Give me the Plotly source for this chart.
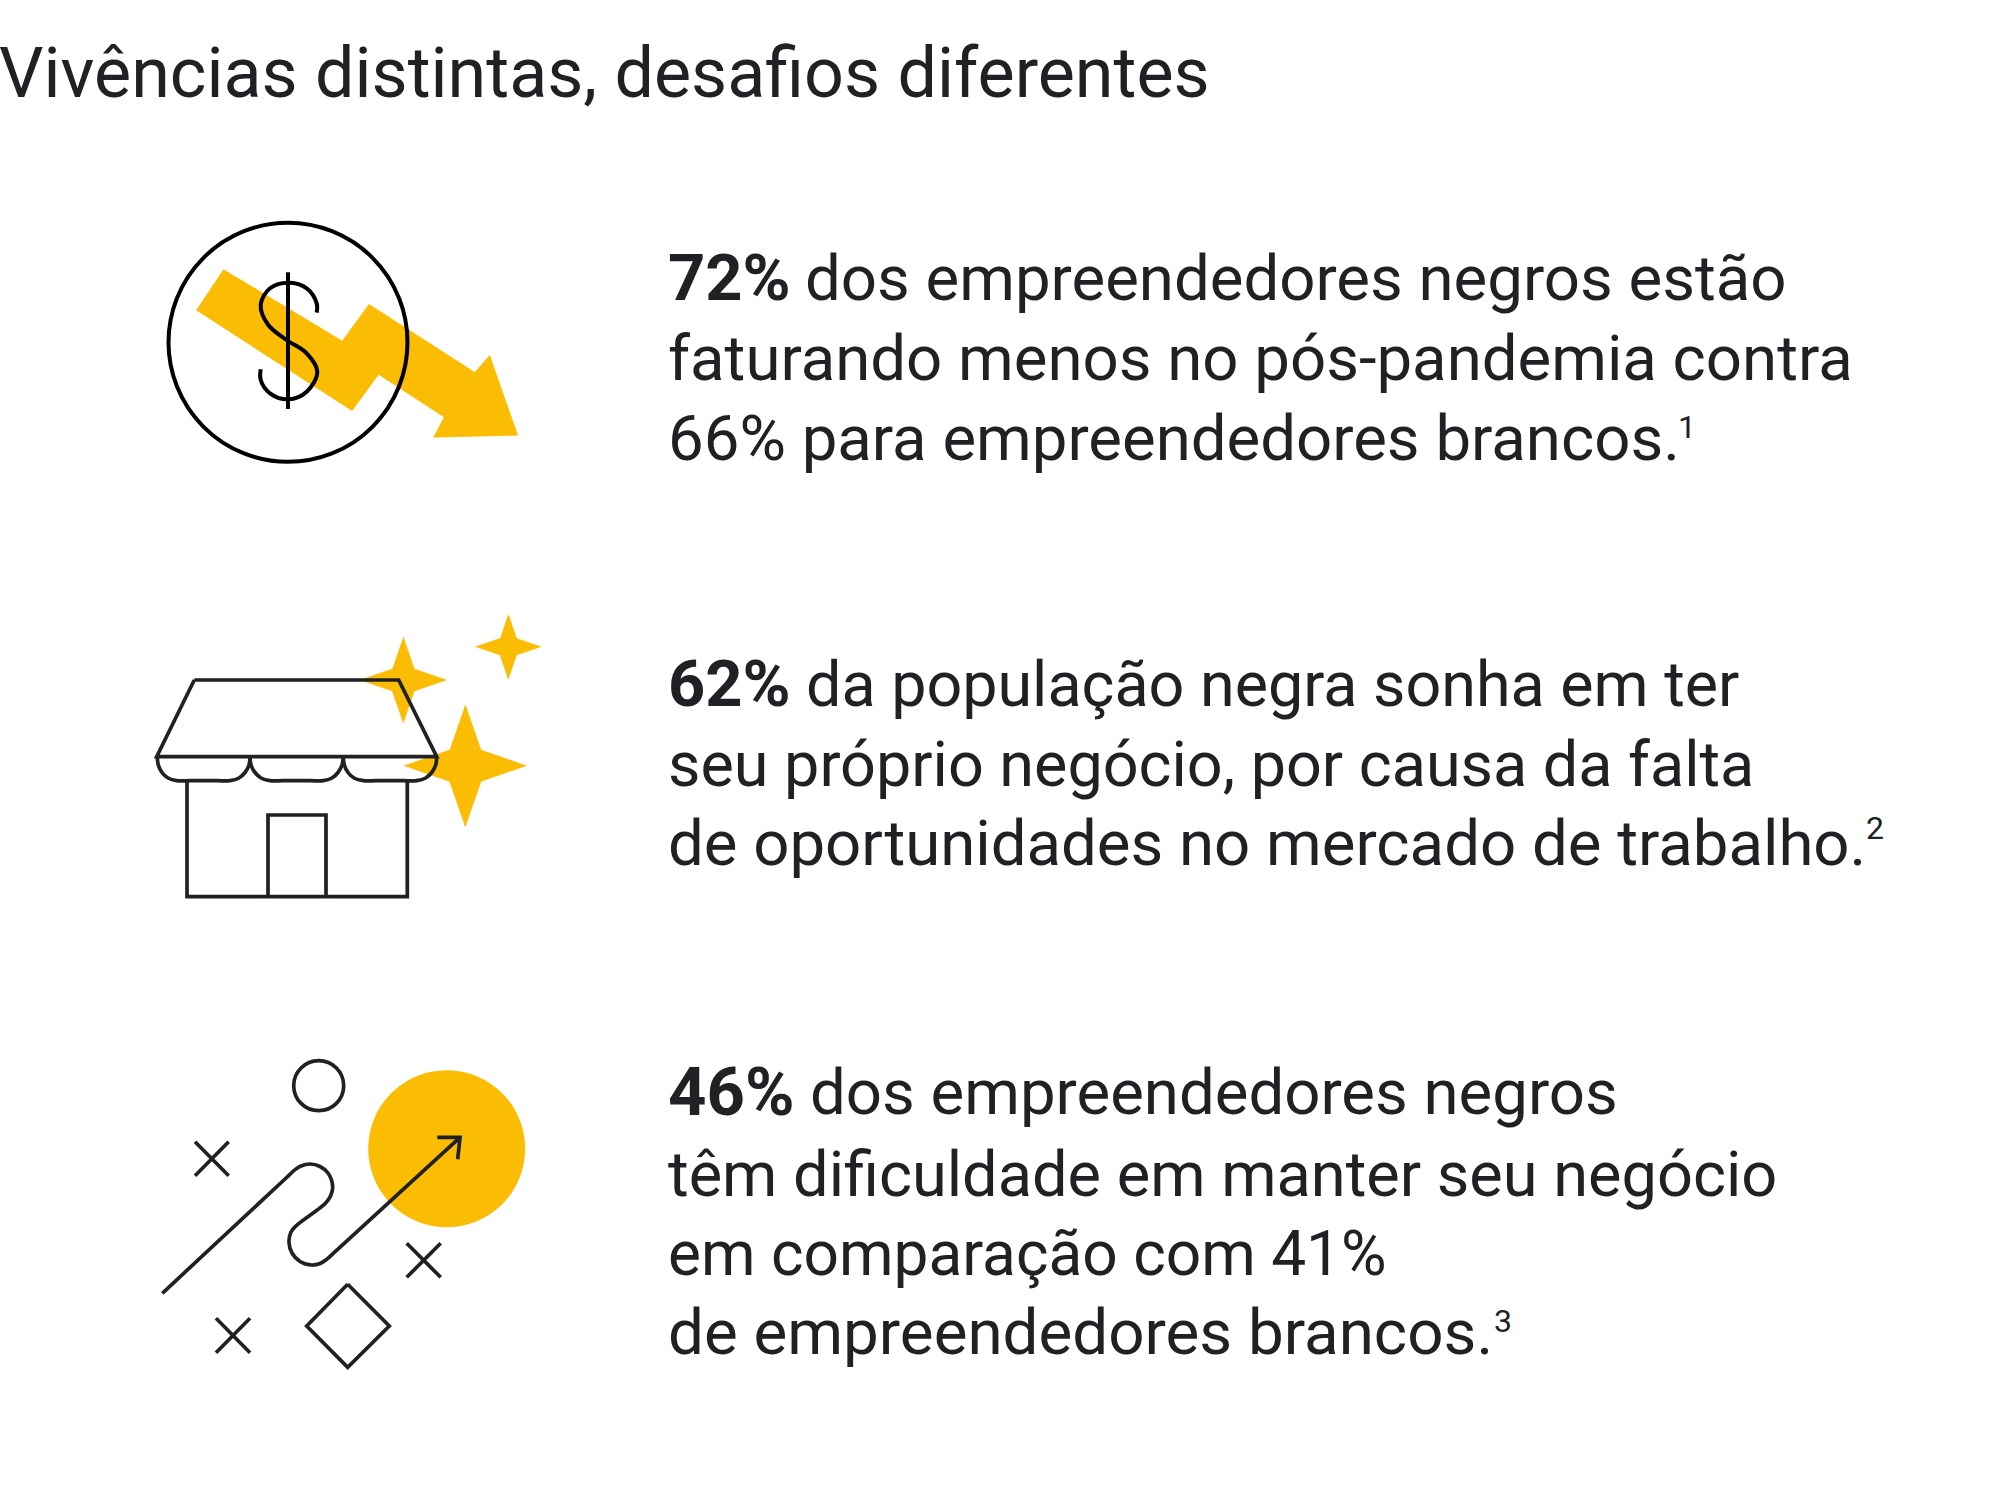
"""Infographic: Vivências distintas, desafios diferentes."""
import plotly.graph_objects as go

INK = '#202124'
YELLOW = '#FBBC04'
FONT = 'Roboto'
NOTE_SIZE = 32

title_text = 'Vivências distintas, desafios diferentes'

# percentages quoted in the three statements
black_revenue_down = 72
white_revenue_down = 66
dream_business = 62
black_difficulty = 46
white_difficulty = 41

bold_stats = [f'{black_revenue_down}%', f'{dream_business}%', f'{black_difficulty}%']
bold_sizes = [65, 65, 67]
first_line_rest = ['dos empreendedores negros estão', 'da população negra sonha em ter', 'dos empreendedores negros']
first_line_rest_x = [803, 804, 808]
first_line_y = [303.5, 709, 1118]
first_line_sizes = [63.5, 62.8, 63.5]

body_lines = [
    'faturando menos no pós-pandemia contra',
    f'{white_revenue_down}% para empreendedores brancos.',
    'seu próprio negócio, por causa da falta',
    'de oportunidades no mercado de trabalho.',
    'têm dificuldade em manter seu negócio',
    f'em comparação com {white_difficulty}%',
    'de empreendedores brancos.',
]
body_lines_y = [383.5, 464, 789, 868.5, 1199, 1278, 1358]
body_sizes = [63.5, 63.5, 62.9, 63.5, 63.1, 62.2, 63.7]

note_marks = ['1', '2', '3']
note_x = [1676, 1864, 1492]
note_y = [441, 841.5, 1335]

# falling arrow icon
arrow_x = [222.7, 342.7, 369.3, 475, 489.3, 516, 435.7, 446, 378.3, 351.7, 197]
arrow_y = [270.5, 342.7, 306, 374, 358, 434, 436, 416.7, 372.7, 409, 309]
coin_x = [288]
coin_y = [342.3]
dollar_s_x = [316.7, 316.7, 306.7, 288.3, 270, 260.7, 268.3, 286.7, 306.7, 317.3, 306.7, 288.3, 270, 260.7, 260.7]
dollar_s_y = [312.7, 303.3, 288.3, 282.7, 288.3, 305, 325, 340, 353.3, 371.7, 391.7, 399.3, 393.3, 380, 369.3]
dollar_bar_x = [288, 288]
dollar_bar_y = [272.3, 409]

# shop icon
star1_x = [403.3, 414.3, 446.3, 414.3, 403.3, 392.3, 360.3, 392.3]
star1_y = [637, 669, 680, 691, 723, 691, 680, 669]
star2_x = [508.3, 516.6, 541, 516.6, 508.3, 500, 475.6, 500]
star2_y = [614.2, 638.4, 646.7, 655, 679.2, 655, 646.7, 638.4]
star3_x = [465.3, 481, 526.3, 481, 465.3, 449.6, 404.3, 449.6]
star3_y = [704.7, 750, 765.7, 781.4, 826.7, 781.4, 765.7, 750]
awning_x = [194.3, 398.7, 436.7, 156.7, 194.3]
awning_y = [680, 680, 756.7, 756.7, 680]
scallop_x = [157.3, 158.3, 162, 168, 176.7, 190, 217, 230, 239, 245, 249, 250, None,
             250, 251, 255, 261, 270, 283, 310, 323.3, 332, 338, 342, 343.3, None,
             343.3, 344.3, 348, 354, 363.3, 376.6, 403.6, 416.7, 425.7, 431.7, 435.7, 436.7]
scallop_y = [756.7, 765, 772.5, 778, 780.7, 780.7, 780.7, 780.7, 778, 772.5, 765, 756.7, None,
             756.7, 765, 772.5, 778, 780.7, 780.7, 780.7, 780.7, 778, 772.5, 765, 756.7, None,
             756.7, 765, 772.5, 778, 780.7, 780.7, 780.7, 780.7, 778, 772.5, 765, 756.7]
wall_x = [187, 187, 407.3, 407.3]
wall_y = [780.7, 896.7, 896.7, 780.7]
door_x = [268, 268, 326, 326]
door_y = [896.7, 815, 815, 896.7]

# path icon
sun_x = [446.7]
sun_y = [1148.7]
ring_x = [318.7]
ring_y = [1085.7]
crosses_x = [195, 228.7, None, 228.7, 195, None, 406.7, 440.7, None, 440.7, 406.7, None, 216, 250, None, 250, 216]
crosses_y = [1141.7, 1175.7, None, 1141.7, 1175.7, None, 1243.3, 1277.3, None, 1243.3, 1277.3, None, 1318.3, 1352.7, None, 1318.3, 1352.7]
diamond_x = [347.7, 389.3, 347.7, 306.7, 347.7]
diamond_y = [1284.3, 1326, 1367.3, 1326, 1284.3]
path_x = [162.3, 285, 294.8, 301, 310, 320, 328, 332.7, 330.5, 325.2, 296.5, 291, 289, 292, 300, 311.7, 320, 326.9, 336, 460]
path_y = [1293.3, 1179, 1169.9, 1166, 1164, 1166.5, 1173, 1186.7, 1196, 1203.5, 1225.5, 1232, 1242.3, 1253, 1261.5, 1265, 1263.5, 1259.1, 1250.8, 1137.3]
head_x = [437.3, 460, 457.7]
head_y = [1137.3, 1137.3, 1159.3]


def outline(x, y, width=3.7, color=INK, shape='linear'):
    return go.Scatter(x=x, y=y, mode='lines', line=dict(color=color, width=width, shape=shape))


def filled(x, y, width=0.5):
    return go.Scatter(x=x, y=y, mode='lines', fill='toself', fillcolor=YELLOW,
                      line=dict(color=YELLOW, width=width))


def dot(x, y, size, color=YELLOW):
    return go.Scatter(x=x, y=y, mode='markers',
                      marker=dict(size=size, color=color, line=dict(width=0)))


def ring(x, y, size, width=3.7, color=INK):
    return go.Scatter(x=x, y=y, mode='markers',
                      marker=dict(size=size, symbol='circle-open', color=color, line=dict(width=width, color=color)))


def label(x, y, text, size, weight='normal', xshift=0):
    fig.add_annotation(x=x, y=y, text=text, xref='x', yref='y', xanchor='left', yanchor='bottom',
                       xshift=xshift, yshift=-0.226 * size, showarrow=False,
                       font=dict(family=FONT, size=size, color=INK, weight=weight))


fig = go.Figure()

# yellow pieces go underneath the line work
fig.add_trace(filled(arrow_x, arrow_y, width=3))
fig.add_trace(filled(star1_x, star1_y))
fig.add_trace(filled(star2_x, star2_y))
fig.add_trace(filled(star3_x, star3_y))
fig.add_trace(dot(sun_x, sun_y, 157))

fig.add_trace(ring(coin_x, coin_y, 239, width=4, color='black'))
fig.add_trace(outline(dollar_s_x, dollar_s_y, width=4, color='black', shape='spline'))
fig.add_trace(outline(dollar_bar_x, dollar_bar_y, width=4, color='black'))

fig.add_trace(outline(awning_x, awning_y))
fig.add_trace(outline(scallop_x, scallop_y, shape='spline'))
fig.add_trace(outline(wall_x, wall_y))
fig.add_trace(outline(door_x, door_y))

fig.add_trace(ring(ring_x, ring_y, 50))
fig.add_trace(outline(crosses_x, crosses_y))
fig.add_trace(outline(diamond_x, diamond_y))
fig.add_trace(outline(path_x, path_y, shape='spline'))
fig.add_trace(outline(head_x, head_y))

# anchor must stay inside the axis range or plotly drops the annotation
label(0, 100, title_text, 70, xshift=-3)

for stat, stat_size, rest, rest_x, y, size in zip(bold_stats, bold_sizes, first_line_rest,
                                                  first_line_rest_x, first_line_y, first_line_sizes):
    label(666, y, stat, stat_size, weight='bold')
    label(rest_x, y, rest, size)

for line, y, size in zip(body_lines, body_lines_y, body_sizes):
    label(666, y, line, size)

for mark, x, y in zip(note_marks, note_x, note_y):
    label(x, y, mark, NOTE_SIZE)

fig.update_xaxes(range=[0, 2000], visible=False, fixedrange=True)
fig.update_yaxes(range=[1502, 0], visible=False, fixedrange=True)
fig.update_layout(
    width=2000,
    height=1502,
    margin=dict(l=0, r=0, t=0, b=0),
    paper_bgcolor='white',
    plot_bgcolor='white',
    showlegend=False,
    hovermode=False,
)

fig.write_html("out.html", config={'displayModeBar': False},
               post_script="document.body.style.margin='0';")
